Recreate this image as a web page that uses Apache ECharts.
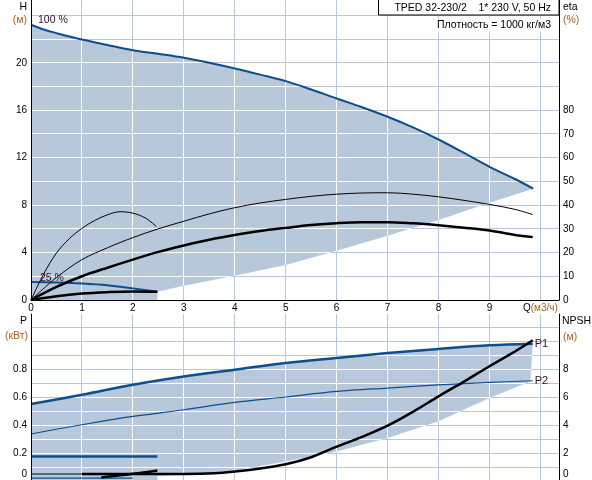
<!DOCTYPE html>
<html>
<head>
<meta charset="utf-8">
<script src="https://cdn.jsdelivr.net/npm/echarts@6.0.0/dist/echarts.min.js"></script>
<style>
  html, body { margin: 0; padding: 0; background: #fff; }
  #chart { width: 592px; height: 480px; }
</style>
</head>
<body>
<div id="chart"></div>
<script>
// --- ticks / grid values ---
const qTicks = [0, 1, 2, 3, 4, 5, 6, 7, 8, 9, 10];
const hGrid = [0, 2, 4, 6, 8, 10, 12, 14, 16, 18, 20, 22, 24];
const pGrid = [0, 0.1, 0.2, 0.3, 0.4, 0.5, 0.6, 0.7, 0.8, 0.9, 1.0, 1.1];

// --- upper panel: head H (m) ---
const hMax = [[0, 23.2], [0.25, 22.8], [0.5, 22.5], [1, 21.96], [1.5, 21.5], [2, 21.06], [2.5, 20.75],
  [3, 20.42], [3.5, 20.0], [4, 19.52], [4.5, 19.0], [5, 18.45], [5.5, 17.75], [6, 16.99], [6.5, 16.25],
  [7, 15.45], [7.5, 14.55], [8, 13.53], [8.5, 12.4], [9, 11.23], [9.5, 10.2], [9.86, 9.38]];
const hMin = [[0, 1.52], [0.5, 1.48], [1, 1.4], [1.5, 1.25], [2, 0.98], [2.48, 0.7]];
// lower edge of the operating range (from right end back to origin)
const hRangeLow = [[9.86, 9.38], [9, 8.2], [8, 6.75], [7, 5.42], [6, 4.15], [5, 2.95], [4, 2.05],
  [3, 1.2], [2.48, 0.7], [2.48, 0], [0, 0]];

// --- upper panel: efficiency eta (%) ---
const etaPumpMax = [[0, 0], [0.5, 9.5], [1, 17], [1.5, 22], [2, 26.3], [2.5, 30], [3, 33.2], [3.5, 36.3],
  [4, 38.9], [4.5, 40.9], [5, 42.4], [5.5, 43.7], [6, 44.6], [6.5, 45.1], [7, 45.2], [7.5, 44.6],
  [8, 43.5], [8.5, 42], [9, 40.3], [9.5, 38.2], [9.85, 36]];
const etaTotalMax = [[0, 0], [0.5, 5.5], [1, 10], [1.5, 13.6], [2, 17], [2.5, 20.3], [3, 23], [3.5, 25.4],
  [4, 27.4], [4.5, 29.1], [5, 30.4], [5.5, 31.6], [6, 32.4], [6.5, 32.8], [7, 32.8], [7.5, 32.3],
  [8, 31.5], [8.5, 30.5], [9, 29.3], [9.5, 27.4], [9.85, 26.5]];
const etaPumpMin = [[0, 0], [0.25, 11], [0.5, 19.8], [0.75, 25.8], [1, 30.2], [1.25, 33.5], [1.5, 35.9],
  [1.75, 37.2], [2, 36.6], [2.25, 34.5], [2.46, 31]];
const etaTotalMin = [[0, 0], [0.5, 1.6], [1, 2.7], [1.5, 3.3], [2, 3.6], [2.48, 3.5]];

// --- lower panel: power P (kW) and NPSH (m) ---
const p1Max = [[0, 0.55], [1, 0.616], [2, 0.688], [3, 0.747], [4, 0.795], [5, 0.843], [6, 0.879],
  [7, 0.914], [8, 0.943], [9, 0.969], [9.85, 0.981]];
const p2Max = [[0, 0.336], [1, 0.402], [2, 0.461], [3, 0.509], [4, 0.561], [5, 0.6], [6, 0.64],
  [7, 0.664], [8, 0.686], [9, 0.704], [9.85, 0.716]];
const pRangeLow = [[9.8, 0.71], [9, 0.593], [8, 0.426], [7, 0.307], [6, 0.211], [5, 0.14], [4, 0.075],
  [3, 0.045], [2.48, 0.035], [2.48, 0], [0, 0]];
const p1Min = [[0, 0.175], [2.48, 0.175]];
const p2Min = [[0, 0.021], [2.0, 0.021]];
const npshStart = [[0, 0.5], [1, 0.5]];
const npshMax = [[1, 0.5], [2, 0.5], [3, 0.5], [3.6, 0.55], [4, 0.68], [4.5, 0.9], [5, 1.2], [5.5, 1.7],
  [6, 2.45], [6.5, 3.15], [7, 3.95], [7.5, 4.95], [8, 6.05], [8.5, 7.1], [9, 8.2], [9.5, 9.25], [9.85, 10.05]];
const npshMin = [[1.38, 0.25], [1.85, 0.45], [2.2, 0.6], [2.48, 0.75]];

const Q_MAX = 10.365;
const H_MAX = 25.29;
const ETA_MAX = 126.45;
const P_MAX = 1.193;
const NPSH_MAX = 11.93;

const FONT = '"Liberation Sans", Arial, sans-serif';
const FILL = '#b7c8da';
const GRID_LINE = '#b7c8da';
const BLUE = '#0d4e8e';
const UNIT = '#b0601a';
const NOTE = '#301030';

// grid lines + operating range fill, white grid lines inside the fill
function rangeRender(upper, lower, yTicks, yMax) {
  return function (params, api) {
    if (params.dataIndex !== 0) return null;
    const poly = upper.concat(lower).map(p => api.coord(p));
    const crisp = v => Math.floor(v) + 0.5;
    const lines = stroke => {
      const v = qTicks.map(q => {
        const a = api.coord([q, 0]);
        const b = api.coord([q, yMax]);
        return { type: 'line', shape: { x1: crisp(a[0]), y1: a[1], x2: crisp(a[0]), y2: b[1] },
          style: { stroke: stroke, lineWidth: 1 } };
      });
      const h = yTicks.map(t => {
        const a = api.coord([0, t]);
        const b = api.coord([Q_MAX, t]);
        return { type: 'line', shape: { x1: a[0], y1: crisp(a[1]), x2: b[0], y2: crisp(a[1]) },
          style: { stroke: stroke, lineWidth: 1 } };
      });
      return v.concat(h);
    };
    return {
      type: 'group',
      children: [
        { type: 'group', children: lines(GRID_LINE) },
        { type: 'polygon', shape: { points: poly }, style: { fill: FILL } },
        { type: 'group', children: lines('#fff'), clipPath: { type: 'polygon', shape: { points: poly } } }
      ]
    };
  };
}

function curve(data, xi, yi, color, width) {
  return {
    type: 'line', xAxisIndex: xi, yAxisIndex: yi, data: data,
    showSymbol: false, symbol: 'none', smooth: 0.35, z: 3,
    lineStyle: { color: color, width: width },
    emphasis: { disabled: true }, silent: true
  };
}

const labelBase = { color: '#000', fontSize: 10, fontFamily: FONT };

const chart = echarts.init(document.getElementById('chart'));
const option = {
  animation: false,
  backgroundColor: '#fff',
  grid: [
    { left: 31, right: 33, top: 0, height: 300, outerBoundsMode: 'none', containLabel: false },
    { left: 31, right: 33, top: 314, height: 167, outerBoundsMode: 'none', containLabel: false }
  ],
  xAxis: [
    {
      type: 'value', gridIndex: 0, min: 0, max: Q_MAX, interval: 1, z: 10,
      axisLine: { show: true, lineStyle: { color: '#000', width: 1 } },
      axisTick: { show: false }, splitLine: { show: false },
      axisLabel: Object.assign({}, labelBase, {
        margin: 3, showMaxLabel: true,
        formatter: v => v === 10 ? '{q|Q}{u|(м3/ч)}' : (Number.isInteger(v) ? String(v) : ''),
        rich: {
          q: { color: '#000', fontSize: 10, fontFamily: FONT },
          u: { color: UNIT, fontSize: 10, fontFamily: FONT }
        }
      })
    },
    {
      type: 'value', gridIndex: 1, min: 0, max: Q_MAX, interval: 1, position: 'top', z: 10,
      axisLine: { show: true, lineStyle: { color: '#000', width: 1 } },
      axisTick: { show: false }, axisLabel: { show: false }, splitLine: { show: false }
    }
  ],
  yAxis: [
    {
      type: 'value', gridIndex: 0, min: 0, max: H_MAX, interval: 2, position: 'left', z: 10,
      axisLine: { show: true, lineStyle: { color: '#000', width: 1 } },
      axisTick: { show: false }, splitLine: { show: false },
      axisLabel: Object.assign({}, labelBase, {
        margin: 4,
        formatter: v => (v % 4 === 0 && v <= 20) ? String(v) : ''
      })
    },
    {
      type: 'value', gridIndex: 0, min: 0, max: ETA_MAX, interval: 10, position: 'right', z: 10,
      axisLine: { show: true, lineStyle: { color: '#000', width: 1 } },
      axisTick: { show: false }, splitLine: { show: false },
      axisLabel: Object.assign({}, labelBase, {
        margin: 4,
        formatter: v => (v % 10 === 0 && v <= 80) ? String(v) : ''
      })
    },
    {
      type: 'value', gridIndex: 1, min: 0, max: P_MAX, interval: 0.1, position: 'left', z: 10,
      axisLine: { show: true, lineStyle: { color: '#000', width: 1 } },
      axisTick: { show: false }, splitLine: { show: false },
      axisLabel: Object.assign({}, labelBase, {
        margin: 4,
        formatter: v => {
          const r = Math.round(v * 10);
          if (Math.abs(v * 10 - r) > 1e-6 || r % 2 || r > 8) return '';
          return r === 0 ? '{z|0}' : (r / 10).toFixed(1);
        },
        rich: { z: { color: '#000', fontSize: 10, fontFamily: FONT, padding: [0, 0, 14, 0] } }
      })
    },
    {
      type: 'value', gridIndex: 1, min: 0, max: NPSH_MAX, interval: 1, position: 'right', z: 10,
      axisLine: { show: true, lineStyle: { color: '#000', width: 1 } },
      axisTick: { show: false }, splitLine: { show: false },
      axisLabel: Object.assign({}, labelBase, {
        margin: 4,
        formatter: v => {
          if (!Number.isInteger(v) || v % 2 || v > 8) return '';
          return v === 0 ? '{z|0}' : String(v);
        },
        rich: { z: { color: '#000', fontSize: 10, fontFamily: FONT, padding: [0, 0, 14, 0] } }
      })
    }
  ],
  series: [
    {
      type: 'custom', xAxisIndex: 0, yAxisIndex: 0, z: 1, silent: true,
      data: [[0, 0]],
      renderItem: rangeRender(hMax, hRangeLow, hGrid, H_MAX)
    },
    {
      type: 'custom', xAxisIndex: 1, yAxisIndex: 2, z: 1, silent: true,
      data: [[0, 0]],
      renderItem: rangeRender(p1Max, pRangeLow, pGrid, P_MAX)
    },
    curve(hMax, 0, 0, BLUE, 2),
    curve(hMin, 0, 0, BLUE, 2),
    curve(etaPumpMax, 0, 1, '#000', 1),
    curve(etaTotalMax, 0, 1, '#000', 2.5),
    curve(etaPumpMin, 0, 1, '#000', 1),
    curve(etaTotalMin, 0, 1, '#000', 2.5),
    Object.assign(curve(p1Max, 1, 2, BLUE, 2.5), {
      endLabel: { show: true, formatter: 'P1', color: NOTE, fontSize: 11, fontFamily: FONT, distance: 2 }
    }),
    Object.assign(curve(p2Max, 1, 2, BLUE, 1.2), {
      endLabel: { show: true, formatter: 'P2', color: NOTE, fontSize: 11, fontFamily: FONT, distance: 2 }
    }),
    curve(p1Min, 1, 2, BLUE, 2.5),
    curve(p2Min, 1, 2, BLUE, 1.2),
    curve(npshStart, 1, 3, '#000', 1),
    curve(npshMax, 1, 3, '#000', 2.5),
    curve(npshMin, 1, 3, '#000', 2.5)
  ],
  graphic: [
    { type: 'rect', z: 100, shape: { x: 378.5, y: -0.5, width: 180.5, height: 15.5 },
      style: { fill: '#fff', stroke: '#000', lineWidth: 1 } },
    { type: 'text', z: 101, x: 551, y: 8,
      style: { text: 'TPED 32-230/2    1* 230 V, 50 Hz', align: 'right', verticalAlign: 'middle',
        fontSize: 10.5, fontFamily: FONT, fill: '#000' } },
    { type: 'text', z: 101, x: 552, y: 25,
      style: { text: 'Плотность = 1000 кг/м3', align: 'right', verticalAlign: 'middle',
        fontSize: 10.5, fontFamily: FONT, fill: '#000', backgroundColor: '#fff', padding: [1, 1] } },
    { type: 'text', z: 101, x: 27, y: 7,
      style: { text: 'H', align: 'right', verticalAlign: 'middle', fontSize: 10.5, fontFamily: FONT, fill: '#000' } },
    { type: 'text', z: 101, x: 27, y: 20,
      style: { text: '(м)', align: 'right', verticalAlign: 'middle', fontSize: 10.5, fontFamily: FONT, fill: UNIT } },
    { type: 'text', z: 101, x: 563, y: 7,
      style: { text: 'eta', align: 'left', verticalAlign: 'middle', fontSize: 10.5, fontFamily: FONT, fill: '#000' } },
    { type: 'text', z: 101, x: 563, y: 20,
      style: { text: '(%)', align: 'left', verticalAlign: 'middle', fontSize: 10.5, fontFamily: FONT, fill: UNIT } },
    { type: 'text', z: 101, x: 27, y: 321,
      style: { text: 'P', align: 'right', verticalAlign: 'middle', fontSize: 10.5, fontFamily: FONT, fill: '#000' } },
    { type: 'text', z: 101, x: 28, y: 336,
      style: { text: '(кВт)', align: 'right', verticalAlign: 'middle', fontSize: 10.5, fontFamily: FONT, fill: UNIT } },
    { type: 'text', z: 101, x: 562, y: 321,
      style: { text: 'NPSH', align: 'left', verticalAlign: 'middle', fontSize: 10.5, fontFamily: FONT, fill: '#000' } },
    { type: 'text', z: 101, x: 563, y: 337,
      style: { text: '(м)', align: 'left', verticalAlign: 'middle', fontSize: 10.5, fontFamily: FONT, fill: UNIT } },
    { type: 'text', z: 101, x: 38, y: 20,
      style: { text: '100 %', align: 'left', verticalAlign: 'middle', fontSize: 10.5, fontFamily: FONT, fill: NOTE } },
    { type: 'text', z: 101, x: 40, y: 278,
      style: { text: '25 %', align: 'left', verticalAlign: 'middle', fontSize: 10.5, fontFamily: FONT, fill: NOTE } }
  ]
};
chart.setOption(option);
</script>
</body>
</html>
